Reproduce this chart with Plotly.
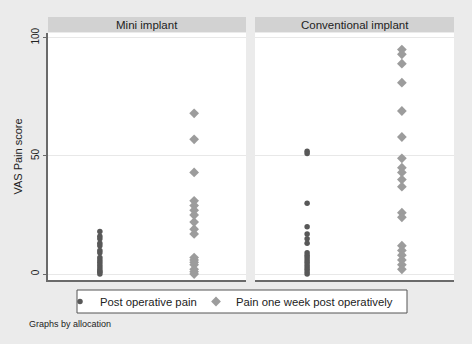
import plotly.graph_objects as go

groups = ["Mini implant", "Conventional implant"]
series_names = ["Post operative pain", "Pain one week post operatively"]

mini_post = [18, 16, 15, 13, 12, 10, 9, 7, 6, 5, 4, 3, 2, 1, 1, 0]
mini_week = [68, 57, 43, 31, 29, 27, 25, 22, 19, 17, 7, 6, 5, 4, 2, 1, 0]
conv_post = [52, 51, 30, 20, 17, 15, 13, 9, 8, 7, 6, 5, 4, 3, 2, 1, 0]
conv_week = [95, 93, 89, 81, 69, 58, 49, 45, 43, 40, 37, 26, 24, 12, 10, 8, 6, 4, 2]

y_ticks = [0, 50, 100]

POST_COLOR = "#585858"
WEEK_COLOR = "#9c9c9c"
BG = "#ebebeb"
FONT = "Liberation Sans, Arial, Helvetica, sans-serif"

fig = go.Figure()
data = [(mini_post, mini_week), (conv_post, conv_week)]
for i, (post, week) in enumerate(data):
    xa = "x" if i == 0 else "x2"
    ya = "y" if i == 0 else "y2"
    fig.add_trace(go.Scatter(
        x=[series_names[0]] * len(post), y=post, mode="markers",
        name=series_names[0], legend="legend", showlegend=(i == 0),
        marker=dict(symbol="circle", size=5.5, color=POST_COLOR),
        xaxis=xa, yaxis=ya))
    fig.add_trace(go.Scatter(
        x=[series_names[1]] * len(week), y=week, mode="markers",
        name=series_names[1], legend="legend2", showlegend=(i == 0),
        marker=dict(symbol="diamond", size=7.5, color=WEEK_COLOR),
        xaxis=xa, yaxis=ya))

W, H = 472, 344
ydom = [1 - 280 / H, 1 - 33 / H]
x1dom = [48 / W, 246 / W]
x2dom = [255 / W, 454 / W]

xcommon = dict(type="category", categoryorder="array", categoryarray=series_names,
               range=[-0.55, 1.55], showticklabels=False, showgrid=False, zeroline=False,
               showline=True, linecolor="#6a6a6a", linewidth=1.5, ticks="", fixedrange=True)
ycommon = dict(range=[-2.5, 102], tickvals=y_ticks, showgrid=True, gridcolor="#e8e8e8",
               gridwidth=1, zeroline=False, fixedrange=True)

legend_common = dict(orientation="h", y=1 - 287 / H, xanchor="left", yanchor="top",
                     bgcolor="rgba(0,0,0,0)", borderwidth=0,
                     font=dict(size=11.3, color="#222"), itemwidth=30)

fig.update_layout(
    width=W, height=H,
    margin=dict(l=0, r=0, t=0, b=0, autoexpand=False),
    paper_bgcolor=BG, plot_bgcolor="white",
    font=dict(family=FONT, size=10, color="#222"),
    xaxis=dict(domain=x1dom, anchor="y", **xcommon),
    xaxis2=dict(domain=x2dom, anchor="y2", **xcommon),
    yaxis=dict(domain=ydom, anchor="x", showline=True, linecolor="#6a6a6a", linewidth=1.5,
               ticks="outside", ticklen=3, tickcolor="#6a6a6a", tickangle=-90,
               tickfont=dict(size=10, color="#222"),
               title=dict(text="VAS Pain score", font=dict(size=11), standoff=5), **ycommon),
    yaxis2=dict(domain=ydom, anchor="x2", showline=False, showticklabels=False, ticks="",
                **ycommon),
    legend=dict(x=60 / W, **legend_common),
    legend2=dict(x=196 / W, **legend_common),
    showlegend=True,
)

# legend box
fig.add_shape(type="rect", xref="paper", yref="paper",
              x0=77 / W, x1=407 / W, y0=1 - 313 / H, y1=1 - 290 / H,
              line=dict(color="#555", width=1), fillcolor="white", layer="below")

# strip headers
for dom, label in [(x1dom, groups[0]), (x2dom, groups[1])]:
    fig.add_shape(type="rect", xref="paper", yref="paper",
                  x0=dom[0], x1=dom[1], y0=1 - 32 / H, y1=1 - 17 / H,
                  line=dict(width=0), fillcolor="#d2d2d2", layer="below")
    fig.add_annotation(xref="paper", yref="paper", x=(dom[0] + dom[1]) / 2, y=1 - 24.5 / H,
                       text=label, showarrow=False, font=dict(size=11.5, color="#222"),
                       xanchor="center", yanchor="middle")

fig.add_annotation(xref="paper", yref="paper", x=27 / W, y=1 - 324 / H,
                   text="Graphs by allocation", showarrow=False,
                   font=dict(size=9, color="#222"), xanchor="left", yanchor="middle")

fig.write_html("out.html", config={"displayModeBar": False},
               post_script="document.body.style.margin='0';document.body.style.background='%s';" % BG)
